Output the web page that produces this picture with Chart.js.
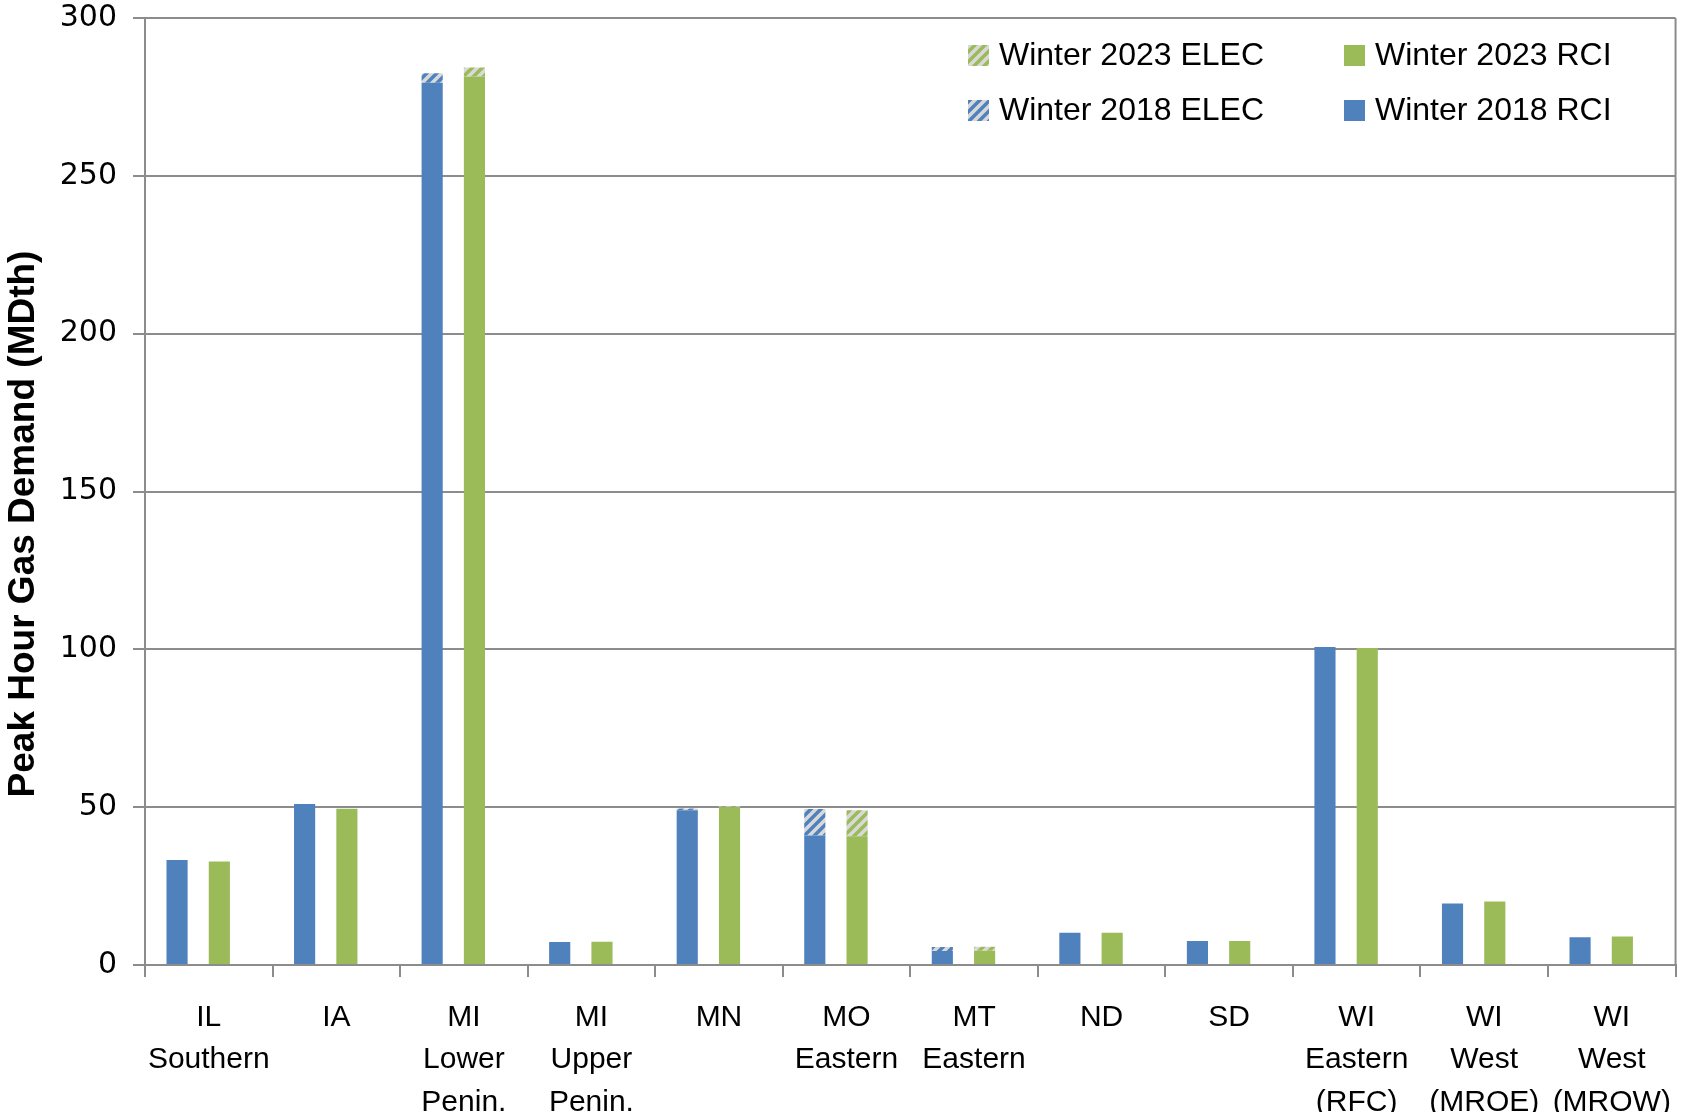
<!DOCTYPE html>
<html>
<head>
<meta charset="utf-8">
<script src="https://cdn.jsdelivr.net/npm/chart.js@4.4.1/dist/chart.umd.min.js"></script>
<style>
  html, body { margin: 0; padding: 0; background: #fff; }
  #wrap { width: 1690px; height: 1112px; }
</style>
</head>
<body>
<div id="wrap"><canvas id="chart" width="1690" height="1112"></canvas></div>
<script>
// --- Data ---
const categories = [
  ['IL', 'Southern'], ['IA'], ['MI', 'Lower', 'Penin.'], ['MI', 'Upper', 'Penin.'],
  ['MN'], ['MO', 'Eastern'], ['MT', 'Eastern'], ['ND'], ['SD'],
  ['WI', 'Eastern', '(RFC)'], ['WI', 'West', '(MROE)'], ['WI', 'West', '(MROW)']
];
const rci2018  = [33.3, 51.0, 279.5, 7.3, 49.0, 41.0, 4.4, 10.2, 7.6, 100.7, 19.5, 8.8];
const elec2018 = [0,    0,    3.0,   0,   0.6,  8.4,  1.3, 0,    0,   0,     0,    0];
const rci2023  = [32.8, 49.5, 281.5, 7.4, 50.0, 40.8, 4.5, 10.2, 7.6, 100.4, 20.1, 9.0];
const elec2023 = [0,    0,    2.8,   0,   0.3,  8.2,  1.3, 0,    0,   0,     0,    0];
// empty slots Excel leaves after each cluster
const emptySlot = [0, 0, 0, 0, 0, 0, 0, 0, 0, 0, 0, 0];
const yTicks = [0, 50, 100, 150, 200, 250, 300];
const yTitle = 'Peak Hour Gas Demand (MDth)';

// --- Styles ---
const BLUE = '#4F81BD';
const GREEN = '#9BBB59';
const HATCH_BG = '#D9D9D9';
const AXIS = '#8C8C8C';
const LABEL_FONT = '"Liberation Sans", Arial, sans-serif';

function hatch(color) {
  const c = document.createElement('canvas');
  c.width = 10; c.height = 10;
  const g = c.getContext('2d');
  g.fillStyle = HATCH_BG;
  g.fillRect(0, 0, 10, 10);
  g.strokeStyle = color;
  g.lineWidth = 3.5;
  g.beginPath();
  g.moveTo(-5, 5); g.lineTo(5, -5);
  g.moveTo(0, 10); g.lineTo(10, 0);
  g.moveTo(5, 15); g.lineTo(15, 5);
  g.stroke();
  return g.createPattern(c, 'repeat');
}

// legend is a 2x2 grid in the top right corner
const legendLayout = [
  { ds: 4, x: 968, y: 55 },
  { ds: 3, x: 1344, y: 55 },
  { ds: 1, x: 968, y: 110 },
  { ds: 0, x: 1344, y: 110 }
];

const gridLegend = {
  id: 'gridLegend',
  afterDraw(chart) {
    const ctx = chart.ctx;
    ctx.save();
    ctx.font = '32px ' + LABEL_FONT;
    ctx.textBaseline = 'middle';
    legendLayout.forEach(item => {
      const ds = chart.data.datasets[item.ds];
      ctx.fillStyle = ds.backgroundColor;
      ctx.fillRect(item.x, item.y - 10, 21, 21);
      ctx.fillStyle = '#000';
      ctx.fillText(ds.label, item.x + 31, item.y + 1);
    });
    ctx.restore();
  }
};

// right edge of the plot frame + y axis title (sits a bit below the plot centre in the original)
const frame = {
  id: 'frame',
  afterDraw(chart) {
    const { ctx, chartArea: a } = chart;
    ctx.save();
    ctx.strokeStyle = AXIS;
    ctx.lineWidth = 2;
    ctx.beginPath();
    ctx.moveTo(a.right, a.top);
    ctx.lineTo(a.right, a.bottom);
    ctx.stroke();

    ctx.translate(24, 524);
    ctx.rotate(-Math.PI / 2);
    ctx.font = 'bold 37px ' + LABEL_FONT;
    ctx.fillStyle = '#000';
    ctx.textAlign = 'center';
    ctx.textBaseline = 'middle';
    ctx.fillText(yTitle, 0, 0);
    ctx.restore();
  }
};

new Chart(document.getElementById('chart'), {
  type: 'bar',
  data: {
    labels: categories,
    datasets: [
      { label: 'Winter 2018 RCI', data: rci2018, backgroundColor: BLUE, stack: 's2018' },
      { label: 'Winter 2018 ELEC', data: elec2018, backgroundColor: hatch(BLUE), stack: 's2018' },
      { label: '', data: emptySlot, backgroundColor: 'rgba(0,0,0,0)', stack: 'gapA' },
      { label: 'Winter 2023 RCI', data: rci2023, backgroundColor: GREEN, stack: 's2023' },
      { label: 'Winter 2023 ELEC', data: elec2023, backgroundColor: hatch(GREEN), stack: 's2023' },
      { label: '', data: emptySlot, backgroundColor: 'rgba(0,0,0,0)', stack: 'gapB' }
    ]
  },
  options: {
    responsive: false,
    animation: false,
    layout: { padding: { top: 0, right: 2, left: 0, bottom: 0 } },
    datasets: { bar: { categoryPercentage: 0.663, barPercentage: 1, borderWidth: 0 } },
    plugins: { legend: { display: false }, tooltip: { enabled: false } },
    scales: {
      x: {
        stacked: true,
        grid: { offset: true, drawOnChartArea: false, drawTicks: true, tickLength: 12, color: AXIS, lineWidth: 2 },
        border: { display: true, color: AXIS, width: 2 },
        ticks: {
          color: '#000', maxRotation: 0, autoSkip: false, padding: 19,
          font: { family: LABEL_FONT, size: 30, lineHeight: 1.42 }
        },
        afterFit: s => { s.height = 147; }
      },
      y: {
        stacked: true,
        min: 0, max: 300,
        afterBuildTicks: s => { s.ticks = yTicks.map(v => ({ value: v })); },
        grid: { color: AXIS, lineWidth: 2, tickLength: 12, drawTicks: true },
        border: { display: true, color: AXIS, width: 2 },
        ticks: {
          color: '#000', padding: 16,
          font: { family: '"DejaVu Sans", sans-serif', size: 30 }
        },
        afterFit: s => { s.width = 145; s.paddingTop = 18; s.paddingBottom = 0; }
      }
    }
  },
  plugins: [gridLegend, frame]
});
</script>
</body>
</html>
